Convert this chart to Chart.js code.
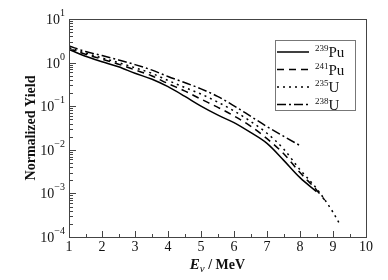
<!DOCTYPE html>
<html><head><meta charset="utf-8">
<script src="https://cdn.jsdelivr.net/npm/chart.js@4.4.0/dist/chart.umd.min.js"></script>
<style>html,body{margin:0;padding:0;background:#fff}#w{width:388px;height:280px}</style>
</head><body><div id="w"><canvas id="c" width="388" height="280"></canvas></div>
<script>
const energyA = [1, 1.5, 2, 2.5, 3, 3.5, 4, 4.5, 5, 5.5, 6, 6.5, 7, 7.5, 8, 8.5];
const pu239 = [2.0, 1.4, 1.05, 0.8, 0.57, 0.42, 0.28, 0.17, 0.1, 0.063, 0.042, 0.025, 0.014, 0.0058, 0.0023, 0.0011];
const energyB = [1, 1.5, 2, 2.5, 3, 3.5, 4, 4.5, 5, 5.5, 6, 6.5, 7, 7.5, 8, 8.5, 8.75];
const pu241 = [2.1, 1.55, 1.2, 0.92, 0.68, 0.5, 0.33, 0.225, 0.145, 0.095, 0.06, 0.035, 0.018, 0.0082, 0.003, 0.0012, 0.0007];
const energyC = [1, 1.5, 2, 2.5, 3, 3.5, 4, 4.5, 5, 5.5, 6, 6.5, 7, 7.5, 8, 8.5, 9, 9.2];
const u235 = [2.2, 1.65, 1.28, 1.0, 0.76, 0.57, 0.39, 0.27, 0.19, 0.125, 0.078, 0.045, 0.024, 0.0105, 0.0035, 0.0013, 0.00037, 0.0002];
const energyD = [1, 1.5, 2, 2.5, 3, 3.5, 4, 4.5, 5, 5.5, 6, 6.5, 7, 7.5, 8];
const u238 = [2.4, 1.8, 1.45, 1.15, 0.9, 0.68, 0.48, 0.35, 0.25, 0.168, 0.102, 0.059, 0.034, 0.0205, 0.0125];
const legendMass = ["239", "241", "235", "238"];
const legendElem = ["Pu", "Pu", "U", "U"];
const xTicks = [1, 2, 3, 4, 5, 6, 7, 8, 9, 10];
const yExps = [1, 0, -1, -2, -3, -4];

const pts = (xs, ys) => xs.map((x, i) => ({x: x, y: ys[i]}));
const SERIF = '"Liberation Serif", "DejaVu Serif", serif';
const dashes = [[], [7, 5], [2, 4], [9, 3, 2, 3]];
const series = [pts(energyA, pu239), pts(energyB, pu241), pts(energyC, u235), pts(energyD, u238)];

const axesPlugin = {
  id: 'axesPlugin',
  afterDraw(chart) {
    const ctx = chart.ctx, a = chart.chartArea;
    const xs = chart.scales.x, ys = chart.scales.y;
    ctx.save();
    ctx.strokeStyle = '#444';
    ctx.lineWidth = 1;
    ctx.strokeRect(a.left + 0.5, a.top + 0.5, a.right - a.left, a.bottom - a.top);
    ctx.beginPath();
    for (let v = 1; v <= 10; v += 0.5) {
      const px = Math.round(xs.getPixelForValue(v)) + 0.5;
      const len = Number.isInteger(v) ? 6 : 3;
      ctx.moveTo(px, a.bottom); ctx.lineTo(px, a.bottom - len);
    }
    for (let e = -4; e <= 1; e++) {
      const py = Math.round(ys.getPixelForValue(Math.pow(10, e))) + 0.5;
      ctx.moveTo(a.left, py); ctx.lineTo(a.left + 7, py);
      if (e < 1) {
        for (let m = 2; m <= 9; m++) {
          const q = Math.round(ys.getPixelForValue(m * Math.pow(10, e))) + 0.5;
          ctx.moveTo(a.left, q); ctx.lineTo(a.left + 4, q);
        }
      }
    }
    ctx.stroke();
    ctx.fillStyle = '#111';
    ctx.font = '14px ' + SERIF;
    ctx.textAlign = 'center'; ctx.textBaseline = 'top';
    xTicks.forEach(v => ctx.fillText(String(v), xs.getPixelForValue(v), a.bottom + 3));
    yExps.forEach(e => {
      const py = ys.getPixelForValue(Math.pow(10, e));
      const sup = e < 0 ? '\u2212' + Math.abs(e) : String(e);
      ctx.font = '10px ' + SERIF;
      const sw = ctx.measureText(sup).width;
      ctx.textAlign = 'right'; ctx.textBaseline = 'alphabetic';
      ctx.fillText(sup, a.left - 4, py - 3);
      ctx.font = '14px ' + SERIF;
      ctx.fillText('10', a.left - 4 - sw, py + 5);
    });
    ctx.save();
    ctx.translate(31, (a.top + a.bottom) / 2);
    ctx.rotate(-Math.PI / 2);
    ctx.font = 'bold 14px ' + SERIF;
    ctx.textAlign = 'center'; ctx.textBaseline = 'middle';
    ctx.fillText('Normalized Yield', 0, 0);
    ctx.restore();
    const p1 = 'E', p2 = '\u03BD', p3 = ' / MeV';
    ctx.textBaseline = 'alphabetic'; ctx.textAlign = 'left';
    ctx.font = 'bold italic 15px ' + SERIF; const w1 = ctx.measureText(p1).width;
    ctx.font = 'italic 11px ' + SERIF; const w2 = ctx.measureText(p2).width;
    ctx.font = 'bold 14px ' + SERIF; const w3 = ctx.measureText(p3).width;
    let sx = (a.left + a.right) / 2 - (w1 + w2 + w3) / 2;
    const by = 269;
    ctx.font = 'bold italic 15px ' + SERIF; ctx.fillText(p1, sx, by); sx += w1;
    ctx.font = 'italic 11px ' + SERIF; ctx.fillText(p2, sx, by + 3); sx += w2;
    ctx.font = 'bold 14px ' + SERIF; ctx.fillText(p3, sx, by);
    const lx = 275, ly = 40, lw = 80, lh = 70;
    ctx.fillStyle = '#fff'; ctx.fillRect(lx, ly, lw, lh);
    ctx.strokeStyle = '#777'; ctx.strokeRect(lx + 0.5, ly + 0.5, lw, lh);
    chart.data.datasets.forEach((ds, i) => {
      const yy = 52 + i * 17.5;
      ctx.strokeStyle = '#000'; ctx.lineWidth = 1.5;
      ctx.setLineDash(dashes[i]);
      ctx.beginPath(); ctx.moveTo(277, yy); ctx.lineTo(309, yy); ctx.stroke();
      ctx.setLineDash([]);
      ctx.fillStyle = '#111';
      ctx.font = '9px ' + SERIF; ctx.textAlign = 'left';
      ctx.fillText(legendMass[i], 315, yy - 1);
      const mw = ctx.measureText(legendMass[i]).width;
      ctx.font = '15px ' + SERIF;
      ctx.fillText(legendElem[i], 315 + mw, yy + 5);
    });
    ctx.restore();
  }
};

new Chart(document.getElementById('c'), {
  type: 'line',
  data: {
    datasets: series.map((d, i) => ({
      label: legendMass[i] + legendElem[i],
      data: d,
      borderColor: '#000',
      borderWidth: 1.5,
      borderDash: dashes[i],
      pointRadius: 0,
      fill: false,
      cubicInterpolationMode: 'monotone'
    }))
  },
  options: {
    responsive: false,
    animation: false,
    devicePixelRatio: 1,
    layout: {padding: {top: 19, right: 22, left: 0, bottom: 0}},
    plugins: {legend: {display: false}, tooltip: {enabled: false}},
    scales: {
      x: {
        type: 'linear', min: 1, max: 10,
        grid: {display: false, drawTicks: false},
        border: {display: false},
        ticks: {display: false},
        afterFit(s) { s.height = 43; }
      },
      y: {
        type: 'logarithmic', min: 1e-4, max: 10,
        grid: {display: false, drawTicks: false},
        border: {display: false},
        ticks: {display: false},
        afterFit(s) { s.width = 69; }
      }
    }
  },
  plugins: [axesPlugin]
});
</script>
</body></html>
